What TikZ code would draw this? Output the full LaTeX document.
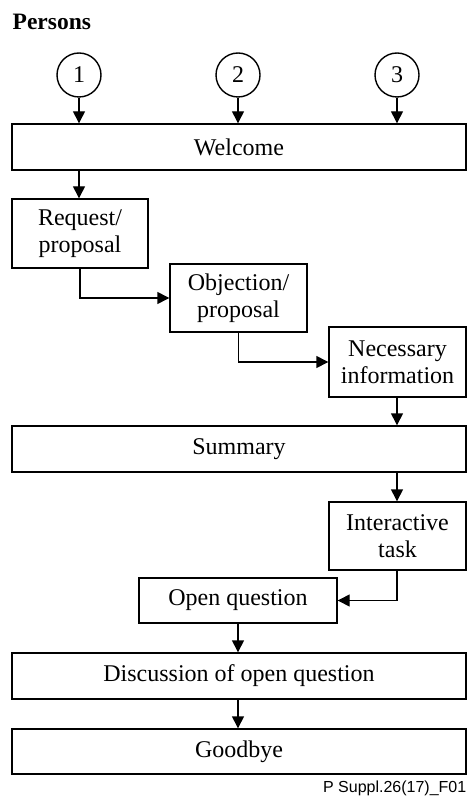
\documentclass[tikz,border=0pt]{standalone}
\usepackage{fontspec}
\setmainfont{Liberation Serif}
\newfontfamily\footfont{Liberation Sans}
\usetikzlibrary{arrows.meta}

\begin{document}
\begin{tikzpicture}[x=1pt, y=-1pt, line width=1.4pt, >={Triangle[width=12pt,length=12pt]},
  person/.style={draw, circle, minimum size=44pt, inner sep=0pt},
  box/.style={draw, inner sep=0pt, minimum height=46pt, align=center},
  wide/.style={box, minimum width=454pt},
  small/.style={box, minimum width=137pt, minimum height=69pt},
  every node/.style={font=\fontsize{24}{27}\selectfont}]
\useasboundingbox (0,0) rectangle (467,799);
\node[anchor=base west, inner sep=0pt, font=\fontsize{23.5}{27}\selectfont\bfseries] (title) at (12,30) {Persons};
\node[person] (p1) at (79,75) {1};
\node[person] (p2) at (238,75) {2};
\node[person] (p3) at (397,75) {3};
\node[wide] (welcome) at (239,147) {Welcome};
\node[small, minimum width=136pt] (req) at (80,233.5) {Request/\\proposal};
\node[small, minimum height=68pt] (obj) at (238.5,298) {Objection/\\proposal};
\node[small, minimum height=70pt] (nec) at (397.5,362) {Necessary\\information};
\node[wide] (summary) at (239,449) {Summary};
\node[small, minimum height=68pt] (inter) at (397.5,536) {Interactive\\task};
\node[box, minimum width=198pt, minimum height=45pt] (open) at (238,600.5) {Open question};
\node[wide] (disc) at (239,676) {Discussion of open question};
\node[wide, minimum height=45pt] (bye) at (239,751.5) {Goodbye};
\node[anchor=east, inner sep=0pt, font=\footfont\fontsize{16}{18}\selectfont] (fig) at (467,788) {P Suppl.26(17)\_F01};
\draw[->] (p1) -- (p1 |- welcome.north);
\draw[->] (p2) -- (p2 |- welcome.north);
\draw[->] (p3) -- (p3 |- welcome.north);
\draw[->] (p1 |- welcome.south) -- (p1 |- req.north);
\draw[->] (req.south) |- (obj.west);
\draw[->] (obj.south) |- (nec.west);
\draw[->] (p3 |- nec.south) -- (p3 |- summary.north);
\draw[->] (p3 |- summary.south) -- (p3 |- inter.north);
\draw[->] (p3 |- inter.south) |- (open.east);
\draw[->] (open.south) -- (open.south |- disc.north);
%\draw[->] (disc) -- (bye);
\draw[->] (open.south |- disc.south) -- (open.south |- bye.north);
\end{tikzpicture}
\end{document}
